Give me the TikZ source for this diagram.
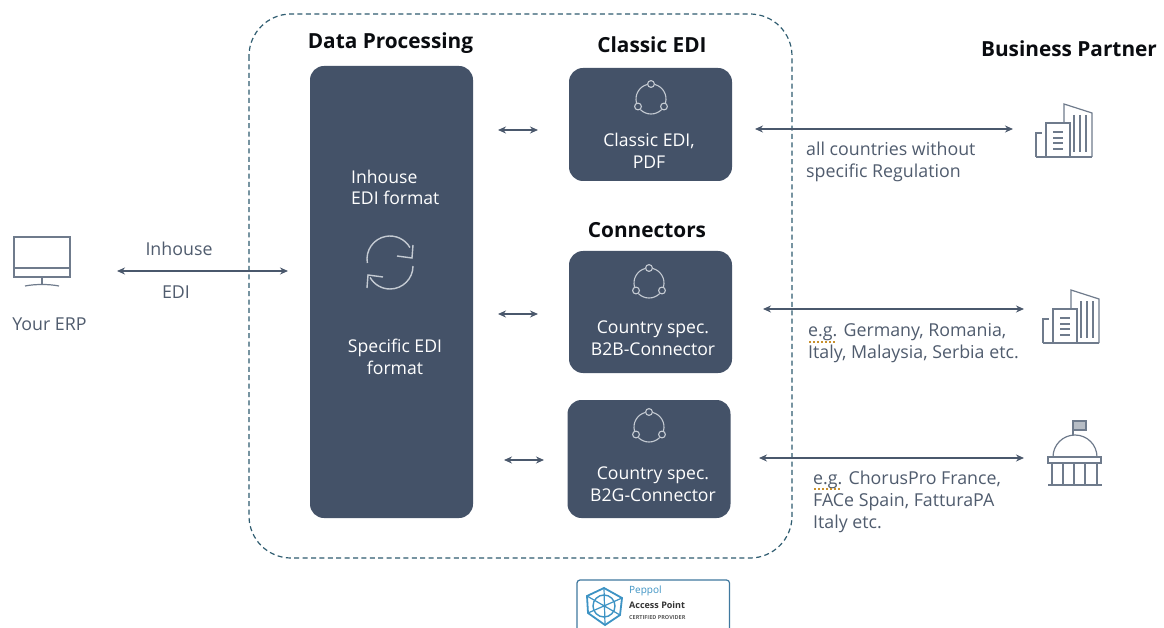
\documentclass[tikz,border=0pt]{standalone}
\usepackage{fontspec}
\setmainfont{Open Sans}
\usetikzlibrary{arrows.meta,calc}
\definecolor{navy}{HTML}{445268}
\definecolor{inkc}{HTML}{4A586C}
\definecolor{txtc}{HTML}{505C6E}
\definecolor{iconc}{HTML}{6F7B8C}
\definecolor{lightc}{HTML}{C4CAD2}
\definecolor{dashc}{HTML}{2F5C70}
\definecolor{peppol}{HTML}{3D93C4}
\definecolor{squig}{HTML}{C8912F}
\tikzset{
  x=1pt,y=-1pt,
  panel/.style={fill=navy,draw=none,rounded corners=14pt},
  paneltext/.style={text=white,font=\fontsize{17.6}{21.5}\selectfont,align=center,inner sep=0pt},
  heading/.style={text=black!85!navy,font=\fontsize{20.8}{24}\selectfont\bfseries,anchor=center,inner sep=0pt},
  note/.style={text=txtc,font=\fontsize{17.8}{22}\selectfont,align=left,anchor=north west,inner sep=0pt},
  flow/.style={draw=inkc,line width=1.3pt,{Stealth[length=8pt,width=7pt]}-{Stealth[length=8pt,width=7pt]}},
  icn/.style={draw=iconc,line width=1.2pt,fill=none},
  wht/.style={draw=lightc,line width=1.1pt,fill=none},
  pics/hub/.style={code={
    \draw[wht] (-105:15) arc (-105:-195:15);
    \draw[wht] (-225:15) arc (-225:-315:15);
    \draw[wht] (-345:15) arc (-345:-435:15);
    \draw[wht] (-90:15) circle (3.4);
    \draw[wht] (-210:15) circle (3.4);
    \draw[wht] (-330:15) circle (3.4);
  }},
  pics/tower/.style={code={
    \draw[icn] (-28,27) -- (28,27);
    \draw[icn] (-28,27) -- (-28,3) -- (-22,3);
    \draw[icn] (-18,27) -- (-18,-7) -- (6,-7) -- (6,27);
    \draw[icn] (0,-7) -- (0,-26) -- (28,-17) -- (28,27);
    \draw[icn] (-11,2) -- (-1,2) (-11,8) -- (-1,8) (-11,13) -- (-1,13) (-11,19) -- (-1,19);
    \draw[icn] (10,-15) -- (10,22) (16,-15) -- (16,22) (22,-15) -- (22,22);
  }},
}
\begin{document}
\begin{tikzpicture}
\useasboundingbox (0,0) rectangle (1164,628);
\fill[white] (0,0) rectangle (1164,628);

% dashed frame
\draw[draw=dashc,line width=1.2pt,dash pattern=on 5pt off 3.4pt,rounded corners=42pt] (249,14) rectangle (792,558);

% panels
\node[panel,minimum width=163pt,minimum height=452pt,inner sep=0pt] (proc) at (391.5,292) {};
\node[panel,minimum width=163pt,minimum height=113pt,inner sep=0pt] (classic) at (650.5,124.5) {};
\node[panel,minimum width=163pt,minimum height=122pt,inner sep=0pt] (b2b) at (650.5,312) {};
\node[panel,minimum width=163pt,minimum height=118pt,inner sep=0pt] (b2g) at (649,459) {};

% headings
\node[heading] (hproc) at (390.5,43) {Data Processing};
\node[heading] (hclassic) at (652,45) {Classic EDI};
\node[heading] (hconn) at (647,230) {Connectors};
\node[heading] (hpartner) at (1069,49) {Business Partner};

% panel text
\node[paneltext,anchor=west,align=left] (t1) at (351,187.5) {Inhouse\\EDI format};
\node[paneltext] (t2) at (395,357) {Specific EDI\\format};
\node[paneltext] (t3) at (649,151) {Classic EDI,\\PDF};
\node[paneltext] (t4) at (653,338) {Country spec.\\B2B-Connector};
\node[paneltext] (t5) at (653,484) {Country spec.\\B2G-Connector};

% hub icons
\pic at (651,99) {hub};
\pic at (649,283) {hub};
\pic at (649,427) {hub};

% refresh icon
\draw[wht,line width=1.4pt] (190:23) ++(390,267) arc (-190:-30:23);
\draw[wht,line width=1.4pt] (413,266) arc (0:150:23);
\draw[wht,line width=1.4pt] (397,256) -- (412,258) -- (413,245);
\draw[wht,line width=1.4pt] (383,277) -- (368,275) -- (367,288);

% ERP
\draw[icn] (14,237) rectangle (70,277);
\draw[icn] (14,268) -- (70,268);
\draw[icn] (42,277) -- (42,285);
\draw[icn] (25,286) .. controls (35,284) and (49,284) .. (59,286);
\node[note,anchor=center] (erp) at (49.5,324) {Your ERP};

% left link
\coordinate (erpend) at (117,271);
\coordinate (procin) at (288,271);
\draw[flow] (erpend) -- (procin);
\node[note,anchor=center] (l1) at (179,249) {Inhouse};
\node[note,anchor=center] (l2) at (176,292) {EDI};

% inner arrows
\coordinate (a1) at (498,130); \coordinate (a2) at (538,130);
\coordinate (b1) at (498,314); \coordinate (b2) at (538,314);
\coordinate (c1) at (504,460); \coordinate (c2) at (544,460);
\draw[flow] (a1) -- (a2);
\draw[flow] (b1) -- (b2);
\draw[flow] (c1) -- (c2);

% outer arrows
\coordinate (d1) at (755,129); \coordinate (d2) at (1013,129);
\coordinate (e1) at (763,309); \coordinate (e2) at (1024,309);
\coordinate (f1) at (759,458); \coordinate (f2) at (1024,458);
\draw[flow] (d1) -- (d2);
\draw[flow] (e1) -- (e2);
\draw[flow] (f1) -- (f2);

% notes
\node[note] (n1) at (806,142) {all countries without\\specific Regulation};
\node[note] (n2) at (808,323) {e.g. Germany, Romania,\\Italy, Malaysia, Serbia etc.};
\node[note] (n3) at (813,471) {e.g. ChorusPro France,\\FACe Spain, FatturaPA\\Italy etc.};
\draw[squig,line width=1.3pt,dash pattern=on 2pt off 2pt] (809,342) -- (836,342);
\draw[squig,line width=1.3pt,dash pattern=on 2pt off 2pt] (814,489) -- (841,489);

% buildings
\pic at (1064,130) {tower};
\pic at (1071,316) {tower};

% government
\draw[icn] (1048,457) rectangle (1101,463);
\draw[icn] (1053,457) arc (-180:-0:22);
\draw[icn] (1073,435) -- (1073,421);
\draw[icn,fill=iconc!50] (1073,421) rectangle (1086,430);
\draw[icn] (1052,463) -- (1052,484) (1063,463) -- (1063,484) (1074,463) -- (1074,484) (1085,463) -- (1085,484) (1097,463) -- (1097,484);
\draw[icn] (1048,485) -- (1102,485);

% Peppol badge
\begin{scope}
\clip (570,570) rectangle (740,628);
\draw[draw=peppol!60!navy,line width=1.2pt,rounded corners=3pt] (577,580) rectangle (729.5,640);
\draw[peppol,line width=1.8pt] (604,588) -- (622,598) -- (620,615) -- (605,625) -- (588,613) -- (587,596) -- cycle;
\draw[peppol,line width=1.2pt] (604,588) -- (605,625) (587,596) -- (620,615) (622,598) -- (588,613);
\draw[peppol,line width=1.4pt] (604,606) circle (11);
\end{scope}
\node[text=peppol,font=\fontsize{10}{11}\selectfont,anchor=west,inner sep=0pt] (pp1) at (629,591) {Peppol};
\node[text=black!80,font=\fontsize{9}{11}\selectfont\bfseries,anchor=west,inner sep=0pt] (pp2) at (629,605) {Access Point};
\node[text=black!65,font=\fontsize{5.5}{7}\selectfont\bfseries,anchor=west,inner sep=0pt] (pp3) at (629,618) {CERTIFIED PROVIDER};
\end{tikzpicture}
\end{document}
